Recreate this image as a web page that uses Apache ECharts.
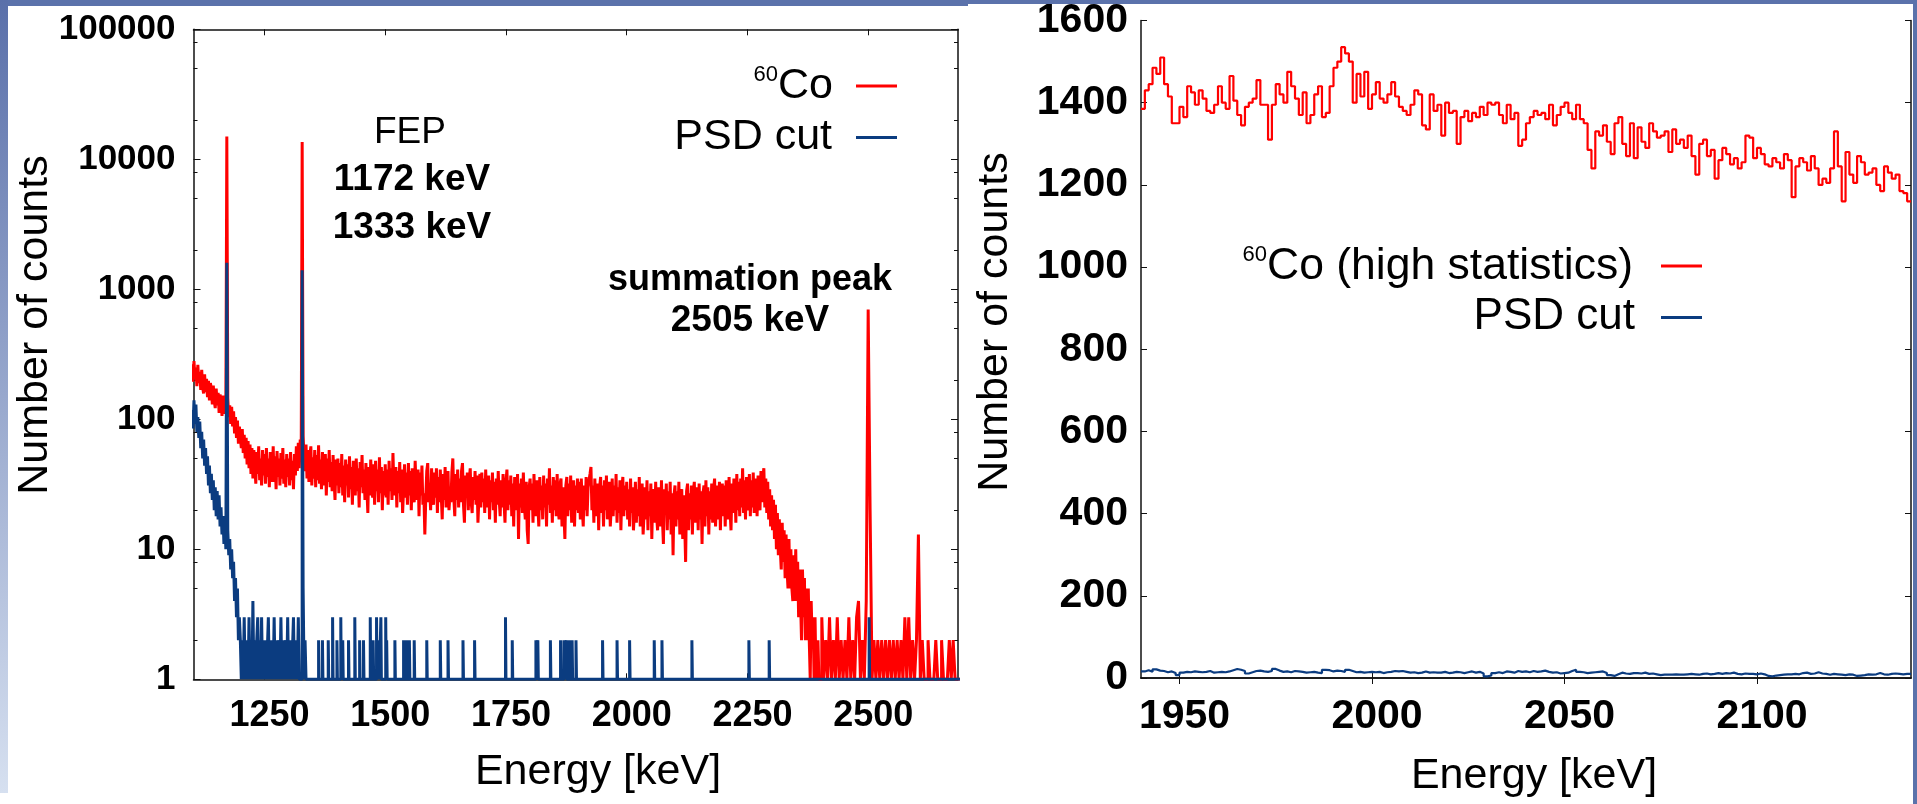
<!DOCTYPE html>
<html><head><meta charset="utf-8">
<script src="https://cdn.jsdelivr.net/npm/echarts@6/dist/echarts.min.js"></script>
<style>html,body{margin:0;padding:0;background:#fff;overflow:hidden}#c{width:1917px;height:804px}</style>
</head><body><div id="c"></div>
<script>
// ---------- DATA ----------
// Left panel: 60Co spectrum. Fine part: 2 keV bins from 1100 keV; tail: 4 keV bins from 2400 keV
const fineStart = 1100, fineBin = 2;
const co60Fine = [
 265,195,280,205,250,180,262,190,232,168,240,175,158,222,162,205,148,198,140,190,172,130,182,138,122,172,128,160,112,155,138,106,152,110,140,118,15000,145,104,128,92,125,88,115,78,104,72,98,65,88,
 88,60,84,55,76,50,72,45,68,42,64,38,60,35,58,44,32,56,38,62,34,50,31,58,37,54,32,60,36,50,30,56,40,33,62,33,52,29,57,36,50,31,55,35,60,32,49,30,54,36,
 50,31,56,34,48,29,54,37,62,40,66,42,70,48,13600,74,50,40,64,35,58,33,53,62,31,51,35,58,30,53,34,63,32,49,29,56,36,31,54,26,50,33,58,30,47,28,53,35,24,49,
 31,50,27,46,30,54,26,44,23,49,31,45,25,52,29,43,22,48,31,26,50,28,42,21,47,30,53,27,41,24,46,29,19,43,26,49,31,25,45,22,48,28,41,23,51,27,43,20,40,26,
 45,25,41,22,48,28,42,24,55,30,26,43,21,40,27,47,23,41,19,29,45,25,39,22,46,26,40,20,42,27,23,48,29,24,41,18,39,26,44,22,27,13,25,40,46,23,29,20,42,26,
 22,39,25,42,19,36,23,41,26,17,38,24,43,21,35,40,20,26,23,39,50,25,18,38,24,41,21,35,23,40,46,22,16,37,25,39,20,34,42,23,19,36,24,40,22,37,16,25,38,21,
 39,23,35,19,41,24,21,37,17,34,23,39,20,33,16,35,22,40,24,18,34,21,38,23,16,33,41,20,34,22,37,18,32,15,36,23,20,38,12,32,21,35,19,39,22,17,33,14,11,30,
 35,20,32,16,38,21,18,34,22,15,36,20,31,17,37,21,32,15,35,22,42,19,31,16,36,20,34,18,38,21,17,32,35,15,30,19,12,31,36,18,32,20,37,16,30,34,15,31,20,35,
 19,33,17,35,21,15,31,20,36,18,30,34,38,43,20,31,16,35,21,18,32,14,30,36,19,31,15,34,20,37,17,30,33,15,21,35,18,31,20,38,16,30,19,34,14,29,36,18,31,20,
 33,17,29,15,35,19,30,14,20,33,16,29,18,36,15,28,32,13,19,30,17,34,14,28,18,32,12,27,29,16,33,18,14,30,20,15,34,17,11,29,19,32,14,28,17,33,13,27,9,26,
 31,15,28,17,33,13,27,29,12,26,16,8,28,32,14,27,17,31,13,28,33,16,26,30,14,32,17,28,11,27,31,15,34,18,30,13,28,17,32,16,29,35,15,27,31,17,33,14,28,32,
 18,31,15,34,28,17,36,20,14,32,19,35,31,16,38,20,33,18,35,21,42,19,34,17,36,22,20,38,18,34,21,39,19,33,35,18,37,22,20,40,23,36,42,21,35,19,33,17,29,15,
 26,14,24,12,22,10,19,9,17,10,7,16,8,14,6,13,7,5,12,5,10,5,4,9,4,10,4,8,3,7,4,2,7,3,6,2,5,2,5,2,1,4,2,3,1,3,1,1,2,1
];
const tailStart = 2400, tailBin = 4;
const co60Tail = [
 1,3,1,2,1,3,1,2,1,3,1,2,1,2,1,3,1,2,1,3,4,1,2,1,4,
 700,20,1,2,1,2,1,2,1,2,1,2,1,2,1,2,1,2,1,3,1,3,1,2,1,
 2,13,1,2,1,1,2,1,1,1,2,1,1,2,1,1,1,2,1,2,1,1,1
];
// PSD cut: fine part (2 keV bins from 1100 keV), then isolated counts
const psdFine = [
 118,85,140,92,130,80,104,72,96,60,80,50,70,44,60,38,52,31,44,27,38,24,34,20,30,18,28,17,26,15,21,13,18,11,16,10,1600,14,9,12,7,10,6,8,4,6,3,5,2,3,
 2,1,2,1,3,1,2,2,1,3,1,2,1,4,1,2,1,2,3,1,2,1,3,1,2,1,2,1,1,3,1,2,1,2,1,3,1,2,1,1,2,1,3,1,2,1,1,2,1,3,
 1,1,2,1,1,3,1,1,2,1,3,1,1,1,1400,5,1,2,1,1
];
const psdSpikeEnergies = [1362,1370,1382,1391,1400,1408,1412,1424,1437,1447,1455,1469,1475,1482,1487,1491,1501,1503,1520,1538,1544,1550,1560,1586,1614,1630,1661,1685,1749,1763,1812,1816,1842,1863,1870,1875,1881,1887,1895,1950,1980,2006,2057,2073,2135,2253,2295,2502];
const psdSpikeCounts   = [2,2,2,3,2,3,2,2,3,2,2,3,2,3,2,3,3,2,2,2,2,2,2,2,2,2,2,2,3,2,2,2,2,2,2,2,2,2,2,2,2,2,2,2,2,2,2,3];
const psdFloor = 1;

// Right panel: high statistics, 1 keV bins from 1940 keV
const hsStart = 1940;
const co60HighStat = [
 1385,1430,1445,1485,1470,1510,1445,1415,1350,1350,
 1390,1365,1440,1425,1395,1430,1410,1380,1375,1395,
 1440,1400,1385,1465,1405,1370,1345,1390,1400,1410,
 1455,1395,1395,1310,1395,1445,1420,1400,1475,1440,
 1410,1370,1425,1350,1370,1420,1440,1365,1375,1440,
 1485,1500,1535,1520,1500,1400,1470,1415,1475,1385,
 1420,1450,1410,1400,1420,1450,1415,1390,1380,1370,
 1395,1430,1420,1345,1335,1420,1380,1395,1320,1400,
 1375,1380,1300,1365,1380,1355,1375,1365,1390,1370,
 1400,1395,1400,1370,1350,1395,1360,1375,1295,1310,
 1350,1365,1380,1370,1375,1360,1395,1345,1370,1390,
 1400,1375,1360,1395,1360,1350,1285,1240,1330,1320,
 1345,1305,1275,1350,1365,1300,1270,1350,1265,1340,
 1305,1290,1350,1330,1315,1320,1330,1280,1335,1300,
 1310,1290,1320,1270,1225,1300,1310,1270,1285,1215,
 1260,1290,1275,1250,1265,1240,1255,1320,1315,1265,
 1290,1275,1250,1245,1265,1255,1240,1275,1260,1170,
 1245,1265,1255,1235,1270,1240,1200,1215,1205,1240,
 1330,1245,1160,1280,1225,1205,1270,1255,1225,1230,
 1240,1200,1185,1245,1230,1215,1225,1185,1180,1160
];
const psdHighStat = [
 16,19,15,21,18,17,14,16,12,7,
 13,15,14,16,15,14,15,17,13,14,
 15,14,16,19,22,20,17,11,14,17,
 18,16,15,17,22,18,15,16,14,17,
 16,15,13,14,15,13,12,20,19,16,
 18,17,15,20,17,14,15,13,14,15,
 14,15,12,14,15,17,16,17,15,13,
 14,12,13,16,13,14,13,13,15,12,
 13,15,14,12,14,16,13,15,11,4,
 6,12,14,12,16,15,13,17,15,16,
 14,17,15,16,18,15,13,14,11,12,
 13,17,20,15,14,12,13,14,15,16,
 12,7,5,9,13,11,10,12,12,11,
 13,10,11,9,7,8,8,8,9,8,
 8,9,10,9,8,10,11,9,10,12,
 10,12,11,13,10,9,11,10,10,9,
 11,9,5,4,6,7,8,9,9,10,
 9,12,13,10,11,14,11,10,8,10,
 9,8,7,9,8,5,6,7,9,8,
 9,12,9,8,10,11,10,9,10,10
];

// Ticks
const leftXTicks = [1250,1500,1750,2000,2250,2500];
const leftYMinor = [2,5,8,20,50,80,200,500,800,2000,5000,8000,20000,50000,80000];
const rightXTicks = [1950,2000,2050,2100];

// ---------- BUILD SERIES ----------
const coData = [];
co60Fine.forEach((c,i)=>coData.push([fineStart+i*fineBin, c]));
co60Tail.forEach((c,i)=>coData.push([tailStart+i*tailBin, c]));
coData.push([tailStart+co60Tail.length*tailBin, co60Tail[co60Tail.length-1]]);

const psdData = psdFine.map((c,i)=>[fineStart+i*fineBin, c]);
psdData.push([fineStart+psdFine.length*fineBin, psdFloor]);
psdSpikeEnergies.forEach((e,i)=>{ psdData.push([e, psdSpikeCounts[i]]); psdData.push([e+1, psdFloor]); });
psdData.push([2700, psdFloor]);

const hsCoData = co60HighStat.map((c,i)=>[hsStart+i, c]);
hsCoData.push([hsStart+co60HighStat.length, co60HighStat[co60HighStat.length-1]]);
const hsPsdData = psdHighStat.map((c,i)=>[hsStart+i, c]);
hsPsdData.push([hsStart+psdHighStat.length, psdHighStat[psdHighStat.length-1]]);

// ---------- STYLE ----------
const FONT = "'Liberation Sans', Arial, sans-serif";
const RED = '#ff0000', BLUE = '#0b3c80', AX = '#111';
const axisLineStyle = {show:true, lineStyle:{color:AX, width:1.5}};
const fmt = v => String(Math.round(v));

function mirrorX(grid, min, max, ticks){
  return {gridIndex:grid, type:'value', position:'top', min, max,
    axisLine:axisLineStyle, splitLine:{show:false},
    axisTick:{show:true, inside:true, length:6, customValues:ticks, lineStyle:{color:AX}},
    axisLabel:{show:false}};
}

const option = {
  animation:false,
  backgroundColor:'#ffffff',
  grid:[
    {left:193.5, top:29.3, width:764.5, height:650},
    {left:1141, top:20, width:770, height:658}
  ],
  xAxis:[
    {gridIndex:0, type:'value', position:'bottom', min:1103, max:2686,
      axisLine:axisLineStyle, splitLine:{show:false},
      axisTick:{show:true, inside:true, length:6, customValues:leftXTicks, lineStyle:{color:AX}},
      axisLabel:{customValues:leftXTicks, formatter:fmt, fontFamily:FONT, fontWeight:'bold', fontSize:36, color:'#000', margin:19, padding:[0,0,0,10]}},
    mirrorX(0,1103,2686,leftXTicks),
    {gridIndex:1, type:'value', position:'bottom', min:1940, max:2140,
      axisLine:axisLineStyle, splitLine:{show:false},
      axisTick:{show:true, inside:true, length:6, customValues:rightXTicks, lineStyle:{color:AX}},
      axisLabel:{customValues:rightXTicks, formatter:fmt, fontFamily:FONT, fontWeight:'bold', fontSize:41, color:'#000', margin:18, padding:[0,0,0,10]}},
    mirrorX(1,1940,2140,rightXTicks)
  ],
  yAxis:[
    {gridIndex:0, type:'log', logBase:10, min:1, max:100000, position:'left',
      axisLine:axisLineStyle, splitLine:{show:false}, minorTick:{show:false},
      axisTick:{show:true, inside:true, length:7, lineStyle:{color:AX}},
      axisLabel:{formatter:fmt, fontFamily:FONT, fontWeight:'bold', fontSize:35, color:'#000', margin:18, padding:[18,0,0,0]}},
    {gridIndex:0, type:'log', logBase:10, min:1, max:100000, position:'right',
      axisLine:axisLineStyle, splitLine:{show:false},
      axisTick:{show:true, inside:true, length:7, lineStyle:{color:AX}}, axisLabel:{show:false}},
    {gridIndex:0, type:'log', logBase:10, min:1, max:100000, position:'left',
      axisLine:{show:false}, splitLine:{show:false},
      axisTick:{show:true, inside:true, length:4, customValues:leftYMinor, lineStyle:{color:AX}}, axisLabel:{show:false}},
    {gridIndex:0, type:'log', logBase:10, min:1, max:100000, position:'right',
      axisLine:{show:false}, splitLine:{show:false},
      axisTick:{show:true, inside:true, length:4, customValues:leftYMinor, lineStyle:{color:AX}}, axisLabel:{show:false}},
    {gridIndex:1, type:'value', min:0, max:1600, interval:200, position:'left',
      axisLine:axisLineStyle, splitLine:{show:false},
      axisTick:{show:true, inside:true, length:6, lineStyle:{color:AX}},
      axisLabel:{formatter:fmt, fontFamily:FONT, fontWeight:'bold', fontSize:41, color:'#000', margin:13, padding:[20,0,0,0]}},
    {gridIndex:1, type:'value', min:0, max:1600, interval:200, position:'right',
      axisLine:axisLineStyle, splitLine:{show:false},
      axisTick:{show:true, inside:true, length:6, lineStyle:{color:AX}}, axisLabel:{show:false}}
  ],
  series:[
    {name:'60Co', type:'line', xAxisIndex:0, yAxisIndex:0, step:'end', data:coData,
      showSymbol:false, symbol:'none', clip:true, lineStyle:{color:RED, width:3}, z:3},
    {name:'PSD cut', type:'line', xAxisIndex:0, yAxisIndex:0, step:'end', data:psdData,
      showSymbol:false, symbol:'none', clip:true, lineStyle:{color:BLUE, width:3}, z:4},
    {name:'60Co (high statistics)', type:'line', xAxisIndex:2, yAxisIndex:4, step:'end', data:hsCoData,
      showSymbol:false, symbol:'none', clip:true, lineStyle:{color:RED, width:2.2}, z:3},
    {name:'PSD cut (high statistics)', type:'line', xAxisIndex:2, yAxisIndex:4, step:'end', data:hsPsdData,
      showSymbol:false, symbol:'none', clip:true, lineStyle:{color:BLUE, width:2.2}, z:4}
  ],
  graphic:[
    // slide frame
    {type:'rect', shape:{x:0,y:0,width:968,height:6}, style:{fill:'#5b72ab'}, silent:true},
    {type:'rect', shape:{x:968,y:0,width:949,height:4}, style:{fill:'#5b72ab'}, silent:true},
    {type:'rect', shape:{x:0,y:0,width:8,height:793}, silent:true,
      style:{fill:{type:'linear',x:0,y:0,x2:0,y2:1,colorStops:[{offset:0,color:'#5a70aa'},{offset:1,color:'#d6e0f0'}]}}},
    {type:'rect', shape:{x:1913,y:0,width:4,height:804}, style:{fill:'#5b72ab'}, silent:true},
    // axis titles
    {type:'text', x:35, y:325, rotation:Math.PI/2, style:{text:'Number of counts', fontFamily:FONT, fontSize:43, fill:'#000', align:'center', verticalAlign:'middle'}},
    {type:'text', x:598, y:772, style:{text:'Energy [keV]', fontFamily:FONT, fontSize:43, fill:'#000', align:'center', verticalAlign:'middle'}},
    {type:'text', x:995, y:322, rotation:Math.PI/2, style:{text:'Number of counts', fontFamily:FONT, fontSize:43, fill:'#000', align:'center', verticalAlign:'middle'}},
    {type:'text', x:1534, y:776, style:{text:'Energy [keV]', fontFamily:FONT, fontSize:43, fill:'#000', align:'center', verticalAlign:'middle'}},
    // annotations
    {type:'text', x:410, y:133, style:{text:'FEP', fontFamily:FONT, fontSize:37, fill:'#000', align:'center', verticalAlign:'middle'}},
    {type:'text', x:412, y:180, style:{text:'1172 keV', fontFamily:FONT, fontWeight:'bold', fontSize:37, fill:'#000', align:'center', verticalAlign:'middle'}},
    {type:'text', x:412, y:228, style:{text:'1333 keV', fontFamily:FONT, fontWeight:'bold', fontSize:37, fill:'#000', align:'center', verticalAlign:'middle'}},
    {type:'text', x:750, y:280, style:{text:'summation peak', fontFamily:FONT, fontWeight:'bold', fontSize:36, fill:'#000', align:'center', verticalAlign:'middle'}},
    {type:'text', x:750, y:321, style:{text:'2505 keV', fontFamily:FONT, fontWeight:'bold', fontSize:37, fill:'#000', align:'center', verticalAlign:'middle'}},
    // legend left
    {type:'text', x:833, y:86, style:{text:'{s|60}{n|Co}', align:'right', verticalAlign:'middle', fill:'#000',
      rich:{s:{fontFamily:FONT, fontSize:22, lineHeight:22, verticalAlign:'top'}, n:{fontFamily:FONT, fontSize:43, lineHeight:44}}}},
    {type:'line', shape:{x1:856,y1:86,x2:897,y2:86}, style:{stroke:RED, lineWidth:3}},
    {type:'text', x:832, y:137, style:{text:'PSD cut', fontFamily:FONT, fontSize:43, fill:'#000', align:'right', verticalAlign:'middle'}},
    {type:'line', shape:{x1:856,y1:137.5,x2:897,y2:137.5}, style:{stroke:BLUE, lineWidth:3}},
    // legend right
    {type:'text', x:1633, y:267, style:{text:'{s|60}{n|Co (high statistics)}', align:'right', verticalAlign:'middle', fill:'#000',
      rich:{s:{fontFamily:FONT, fontSize:22, lineHeight:22, verticalAlign:'top'}, n:{fontFamily:FONT, fontSize:44.5, lineHeight:46}}}},
    {type:'line', shape:{x1:1661,y1:266,x2:1702,y2:266}, style:{stroke:RED, lineWidth:3}},
    {type:'text', x:1635, y:317, style:{text:'PSD cut', fontFamily:FONT, fontSize:44, fill:'#000', align:'right', verticalAlign:'middle'}},
    {type:'line', shape:{x1:1661,y1:317.5,x2:1702,y2:317.5}, style:{stroke:BLUE, lineWidth:3}}
  ]
};
const chart = echarts.init(document.getElementById('c'), null, {renderer:'canvas'});
chart.setOption(option);
</script></body></html>
